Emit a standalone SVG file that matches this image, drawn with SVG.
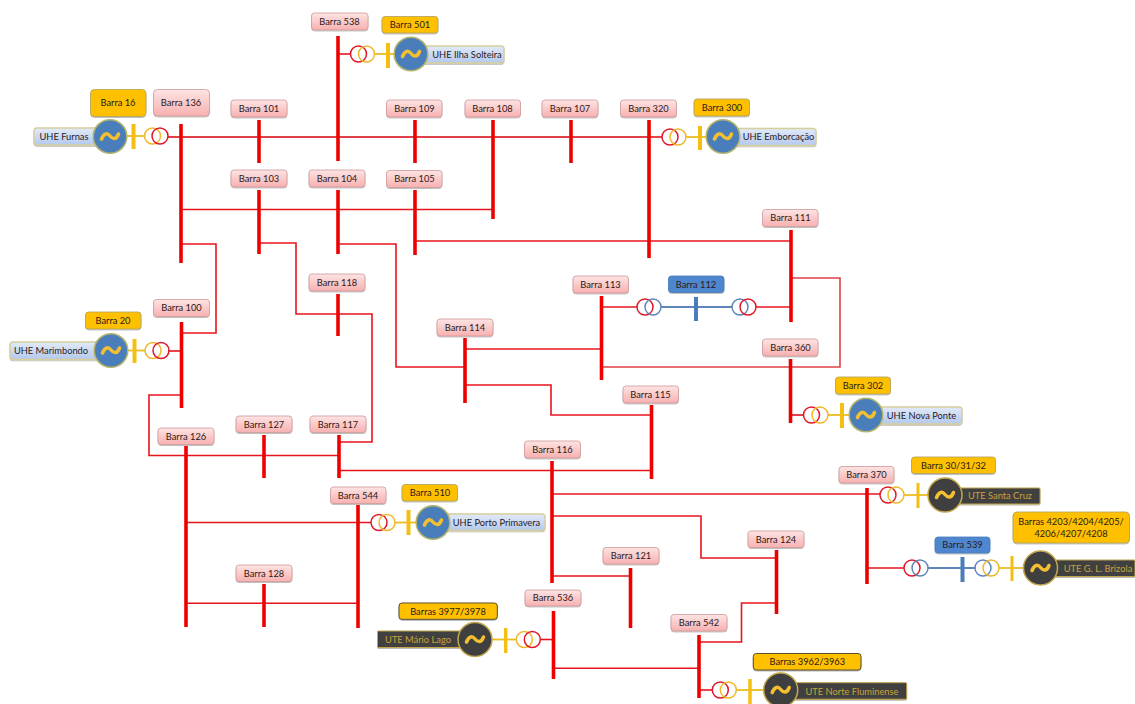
<svg xmlns="http://www.w3.org/2000/svg" width="1135" height="704" viewBox="0 0 1135 704">
<defs>
<linearGradient id="gP" x1="0" y1="0" x2="0" y2="1"><stop offset="0" stop-color="#fde4e4"/><stop offset="1" stop-color="#f8b0b0"/></linearGradient>
<linearGradient id="gU" x1="0" y1="0" x2="0" y2="1"><stop offset="0" stop-color="#e2eaf8"/><stop offset="1" stop-color="#b4c9ee"/></linearGradient>
<filter id="sh" x="-10%" y="-20%" width="120%" height="150%"><feDropShadow dx="0" dy="0.800" stdDeviation="0.500" flood-color="#000" flood-opacity="0.350"/></filter>
<path id="w" d="M-8.500 2.500C-6 -4 -2.500 -3.500 0 -0.500S6 4 8.500 -2.500"/>
</defs>
<style>
text{font-family:"Lato","Liberation Sans",sans-serif;font-size:9.300px;text-anchor:middle;fill:#2a1a1a}
.p{fill:url(#gP);stroke:#d09a9a;stroke-width:0.800;filter:url(#sh)}
.o{fill:#ffc000;stroke:#b0a260;stroke-width:0.800;filter:url(#sh)}
.k{fill:#ffc000;stroke:#5a5030;stroke-width:1;filter:url(#sh)}
.b{fill:#4f86d0;stroke:#4a7ebb;stroke-width:0.800;filter:url(#sh)}
.u{fill:url(#gU);stroke:#d6cf9c;stroke-width:1.300;filter:url(#sh)}
.d{fill:#3f3f3f;stroke:#c2a64c;stroke-width:1;filter:url(#sh)}
.dt{fill:#c9a23c}
.bus{stroke:#ee0000;stroke-width:3.600;fill:none}
.ln{stroke:#e8141c;stroke-width:1.600;fill:none}
.main{stroke:#e0404a;stroke-width:2;fill:none}
.ylw{stroke:#ecbc20;stroke-width:1.800;fill:none}
.blu{stroke:#5f86bb;stroke-width:1.800;fill:none}
.ybar{stroke:#f5bf12;stroke-width:4;fill:none}
.bbar{stroke:#4a7ebb;stroke-width:4;fill:none}
.tr{stroke:#e0182a;stroke-width:1.500;fill:none}
.ty{stroke:#efb82a;stroke-width:1.500;fill:none}
.tb{stroke:#5f86bb;stroke-width:1.500;fill:none}
.gb{fill:#4a7ebb;stroke:#b4b46c;stroke-width:1.500}
.gd{fill:#3f3f3f;stroke:#c2a64c;stroke-width:1.500}
.wv{fill:none;stroke:#f5c030;stroke-width:3.500;stroke-linecap:round}
</style>
<g id="connectors">
<path class="main" d="M168 137H649"/>
<path class="ln" d="M181 209.500H493"/>
<path class="ln" d="M181 244H216V333H181"/>
<path class="ln" d="M259 243H296V314H372V442H339"/>
<path class="ln" d="M338 244H396V367H465"/>
<path class="ln" d="M415 241H791"/>
<path class="main" style="stroke-width:1.600" d="M791 278H840V367H601"/>
<path class="ln" d="M465 349H601"/>
<path class="ln" d="M465 385H551V415H651"/>
<path class="ln" d="M181 395H149V455.500H339"/>
<path class="ln" d="M339 470.500H651"/>
<path class="ln" d="M552 494H880"/>
<path class="ln" d="M552 516H701V558H776"/>
<path class="ln" d="M186 522.500H371"/>
<path class="ln" d="M186 603.300H358"/>
<path class="ln" d="M552 576H630"/>
<path class="ln" d="M553 668.300H698"/>
<path class="ln" d="M699 642H741.500V603H776"/>
<path class="ln" d="M601 307H637"/>
<path class="blu" d="M661 307H732"/>
<path class="ln" d="M756 307H791"/>
<path class="ln" d="M338 54H350"/>
<path class="ln" d="M649 137H662"/>
<path class="main" d="M790 415H804"/>
<path class="ln" d="M867 568H904"/>
<path class="blu" d="M928 568H975"/>
<path class="ln" d="M540 639.500H553"/>
<path class="ln" d="M699 690H712"/>
<path class="ln" d="M168 351H181"/>
<path class="ylw" d="M127 136H145"/>
<path class="ylw" d="M374 54H394"/>
<path class="ylw" d="M686 137H706"/>
<path class="ylw" d="M128 350.500H145"/>
<path class="ylw" d="M828 415H849"/>
<path class="ylw" d="M395 522.500H416"/>
<path class="ylw" d="M904 495H928"/>
<path class="ylw" d="M999 568H1023"/>
<path class="ylw" d="M492 639.500H516"/>
<path class="ylw" d="M736 690H764"/>
</g>
<g id="barra-538"><rect class="p" x="311.500" y="13" width="56.500" height="17" rx="3"/><text x="339.500" y="24.800">Barra 538</text><path class="bus" d="M338 36V161"/></g>
<g id="barra-136"><rect class="p" x="153.500" y="89.500" width="56" height="26.500" rx="4"/><text x="181" y="106">Barra 136</text><path class="bus" d="M181 124V263"/></g>
<g id="barra-101"><rect class="p" x="231" y="100" width="56" height="17" rx="3"/><text x="259" y="111.800">Barra 101</text><path class="bus" d="M259 120V163"/></g>
<g id="barra-109"><rect class="p" x="386.500" y="100" width="55.500" height="17" rx="3"/><text x="414.500" y="111.800">Barra 109</text><path class="bus" d="M415 120V163"/></g>
<g id="barra-108"><rect class="p" x="465" y="100" width="55.500" height="17" rx="3"/><text x="492.500" y="111.800">Barra 108</text><path class="bus" d="M493 120V219"/></g>
<g id="barra-107"><rect class="p" x="542" y="100" width="56" height="17" rx="3"/><text x="570" y="111.800">Barra 107</text><path class="bus" d="M571 120V163"/></g>
<g id="barra-320"><rect class="p" x="620.500" y="100" width="56" height="17" rx="3"/><text x="648.500" y="111.800">Barra 320</text><path class="bus" d="M649 120V258"/></g>
<g id="barra-103"><rect class="p" x="231" y="170" width="56" height="17" rx="3"/><text x="259" y="181.800">Barra 103</text><path class="bus" d="M259 190V254"/></g>
<g id="barra-104"><rect class="p" x="309" y="170" width="56" height="17" rx="3"/><text x="337" y="181.800">Barra 104</text><path class="bus" d="M338 190V254"/></g>
<g id="barra-105"><rect class="p" x="386.500" y="170.500" width="55.500" height="17" rx="3"/><text x="414.500" y="182.300">Barra 105</text><path class="bus" d="M415 190V255"/></g>
<g id="barra-111"><rect class="p" x="762.500" y="209.500" width="55.500" height="17" rx="3"/><text x="790.500" y="221.300">Barra 111</text><path class="bus" d="M791 230V322"/></g>
<g id="barra-118"><rect class="p" x="309" y="274" width="56" height="17" rx="3"/><text x="337" y="285.800">Barra 118</text><path class="bus" d="M338 294V336"/></g>
<g id="barra-113"><rect class="p" x="573" y="276" width="55.500" height="17" rx="3"/><text x="600.500" y="287.800">Barra 113</text><path class="bus" d="M601.500 296V380"/></g>
<g id="barra-112"><rect class="b" x="668.500" y="276" width="55.500" height="16.500" rx="3"/><text x="696" y="287.800">Barra 112</text><path class="bbar" d="M696 297V321"/><circle class="tr" cx="645" cy="307" r="8"/><circle class="tb" cx="653" cy="307" r="8"/><circle class="tb" cx="740" cy="307" r="8"/><circle class="tr" cx="748" cy="307" r="8"/></g>
<g id="barra-114"><rect class="p" x="437" y="319" width="56" height="17" rx="3"/><text x="465" y="330.800">Barra 114</text><path class="bus" d="M465 338V403"/></g>
<g id="barra-100"><rect class="p" x="153.500" y="299.500" width="56" height="17" rx="3"/><text x="181.500" y="311.300">Barra 100</text><path class="bus" d="M181.500 322V408"/></g>
<g id="barra-360"><rect class="p" x="762.500" y="339" width="55.500" height="17" rx="3"/><text x="790.500" y="350.800">Barra 360</text><path class="bus" d="M790.500 359V423"/></g>
<g id="barra-115"><rect class="p" x="623" y="386" width="55.500" height="17" rx="3"/><text x="650.500" y="397.800">Barra 115</text><path class="bus" d="M651.500 405V479"/></g>
<g id="barra-127"><rect class="p" x="236" y="416" width="56" height="16.500" rx="3"/><text x="264" y="427.500">Barra 127</text><path class="bus" d="M264 435V478"/></g>
<g id="barra-117"><rect class="p" x="310" y="416" width="56" height="16.500" rx="3"/><text x="338" y="427.500">Barra 117</text><path class="bus" d="M339 435V478"/></g>
<g id="barra-126"><rect class="p" x="158" y="428" width="56" height="16.500" rx="3"/><text x="186" y="439.500">Barra 126</text><path class="bus" d="M186 446V627"/></g>
<g id="barra-116"><rect class="p" x="524.500" y="441" width="56" height="17" rx="3"/><text x="552.500" y="452.800">Barra 116</text><path class="bus" d="M552 461V583"/></g>
<g id="barra-370"><rect class="p" x="839" y="466.500" width="55" height="16.500" rx="3"/><text x="866.500" y="478">Barra 370</text><path class="bus" d="M867 488V584"/></g>
<g id="barra-544"><rect class="p" x="330.500" y="487" width="55.500" height="16.500" rx="3"/><text x="358" y="498.500">Barra 544</text><path class="bus" d="M358 505V628"/></g>
<g id="barra-539"><rect class="b" x="935" y="537" width="55" height="16" rx="3"/><text x="962.500" y="548.300">Barra 539</text><path class="bbar" d="M962.500 557V582"/></g>
<g id="barra-124"><rect class="p" x="748" y="531" width="56" height="16.500" rx="3"/><text x="776" y="542.500">Barra 124</text><path class="bus" d="M776.500 550V614"/></g>
<g id="barra-128"><rect class="p" x="236" y="565" width="56" height="16.500" rx="3"/><text x="264" y="576.500">Barra 128</text><path class="bus" d="M264 584V627"/></g>
<g id="barra-121"><rect class="p" x="603" y="547.500" width="56" height="16.500" rx="3"/><text x="631" y="559">Barra 121</text><path class="bus" d="M630.500 568V628"/></g>
<g id="barra-536"><rect class="p" x="525" y="590" width="56" height="16" rx="3"/><text x="553" y="601.300">Barra 536</text><path class="bus" d="M553.500 611V679"/></g>
<g id="barra-542"><rect class="p" x="671" y="614.500" width="56" height="16.500" rx="3"/><text x="699" y="626">Barra 542</text><path class="bus" d="M699 635V698"/></g>
<g id="uhe-furnas"><rect class="o" x="90.500" y="89.500" width="55.500" height="27" rx="4"/><text x="118" y="106">Barra 16</text><path class="ybar" d="M133.500 124V149"/><circle class="ty" cx="152.500" cy="136" r="8"/><circle class="tr" cx="160" cy="136" r="8"/><rect class="u" x="34" y="128" width="65" height="17" rx="3"/><text x="64" y="139.800">UHE Furnas</text><circle class="gb" cx="110" cy="136.500" r="16.800"/><use class="wv" href="#w" x="110" y="136.500"/></g>
<g id="uhe-ilha-solteira"><rect class="o" x="382" y="16.500" width="56" height="16.500" rx="3"/><text x="410" y="28.300">Barra 501</text><path class="ybar" d="M388 43V68"/><circle class="tr" cx="358.500" cy="54" r="8"/><circle class="ty" cx="366.500" cy="54" r="8"/><rect class="u" x="420" y="46" width="84" height="17" rx="3"/><text x="467" y="57.800">UHE Ilha Solteira</text><circle class="gb" cx="411" cy="54" r="16.800"/><use class="wv" href="#w" x="411" y="54"/></g>
<g id="uhe-emborcacao"><rect class="o" x="694" y="99" width="55.500" height="17" rx="3"/><text x="722" y="110.800">Barra 300</text><path class="ybar" d="M700 126V150"/><circle class="tr" cx="670" cy="137" r="8"/><circle class="ty" cx="678" cy="137" r="8"/><rect class="u" x="730" y="128.500" width="86" height="17" rx="3"/><text x="778.500" y="140.300">UHE Emborcação</text><circle class="gb" cx="723" cy="136.500" r="16.800"/><use class="wv" href="#w" x="723" y="136.500"/></g>
<g id="uhe-marimbondo"><rect class="o" x="85.500" y="312" width="55.500" height="17" rx="3"/><text x="113" y="323.800">Barra 20</text><path class="ybar" d="M134.500 339V363"/><circle class="ty" cx="153" cy="350.500" r="8"/><circle class="tr" cx="161" cy="350.500" r="8"/><rect class="u" x="10" y="342" width="90" height="17.500" rx="3"/><text x="51" y="354">UHE Marimbondo</text><circle class="gb" cx="111" cy="350.500" r="16.800"/><use class="wv" href="#w" x="111" y="350.500"/></g>
<g id="uhe-nova-ponte"><rect class="o" x="835.500" y="377" width="55" height="17" rx="3"/><text x="863" y="388.800">Barra 302</text><path class="ybar" d="M842 403V428"/><circle class="tr" cx="811.500" cy="415" r="8"/><circle class="ty" cx="820" cy="415" r="8"/><rect class="u" x="870" y="407" width="92" height="17" rx="3"/><text x="921.500" y="418.800">UHE Nova Ponte</text><circle class="gb" cx="866" cy="415" r="16.800"/><use class="wv" href="#w" x="866" y="415"/></g>
<g id="uhe-porto-primavera"><rect class="o" x="402" y="484.500" width="55.500" height="16.500" rx="3"/><text x="430" y="496">Barra 510</text><path class="ybar" d="M408.500 510V535"/><circle class="tr" cx="379" cy="522.500" r="8"/><circle class="ty" cx="387" cy="522.500" r="8"/><rect class="u" x="440" y="514" width="105" height="16.500" rx="3"/><text x="496.500" y="526">UHE Porto Primavera</text><circle class="gb" cx="433" cy="522.500" r="16.800"/><use class="wv" href="#w" x="433" y="522.500"/></g>
<g id="ute-santa-cruz"><rect class="o" x="911.500" y="457" width="84" height="16.500" rx="3"/><text x="953.500" y="468.800">Barra 30/31/32</text><path class="ybar" style="stroke-width:3" d="M918 483V508"/><circle class="tr" cx="888" cy="495" r="8"/><circle class="ty" cx="896" cy="495" r="8"/><rect class="d" x="955" y="488" width="85" height="16" rx="1"/><text class="dt" x="1000" y="499.300">UTE Santa Cruz</text><circle class="gd" cx="945" cy="495" r="17"/><use class="wv" href="#w" x="945" y="495"/></g>
<g id="ute-brizola"><rect class="o" x="1013" y="512" width="116.500" height="31" rx="4"/><text x="1071" y="524.500">Barras 4203/4204/4205/</text><text x="1071" y="537">4206/4207/4208</text><path class="ybar" style="stroke-width:3" d="M1012 556V581"/><circle class="tr" cx="912" cy="568" r="8"/><circle class="tb" cx="920" cy="568" r="8"/><circle class="tb" cx="983" cy="568" r="8"/><circle class="ty" cx="991" cy="568" r="8"/><rect class="d" x="1050" y="560" width="85" height="16.500" rx="1"/><text class="dt" x="1098" y="571.800">UTE G. L. Brizola</text><circle class="gd" cx="1040.500" cy="568" r="17"/><use class="wv" href="#w" x="1040.500" y="568"/></g>
<g id="ute-mario-lago"><rect class="k" x="399" y="603" width="98.300" height="16.300" rx="3"/><text x="448" y="614.800">Barras 3977/3978</text><path class="ybar" style="stroke-width:3.500" d="M505.700 628V653"/><circle class="ty" cx="524.300" cy="639.500" r="8"/><circle class="tr" cx="532.300" cy="639.500" r="8"/><rect class="d" x="377.500" y="631" width="85" height="16.500" rx="1"/><text class="dt" x="418" y="642.800">UTE Mário Lago</text><circle class="gd" cx="475" cy="639.500" r="17"/><use class="wv" href="#w" x="475" y="639.500"/></g>
<g id="ute-norte-fluminense"><rect class="k" x="753.300" y="653.500" width="107.700" height="16.500" rx="3"/><text x="807.300" y="665.300">Barras 3962/3963</text><path class="ybar" style="stroke-width:3.500" d="M750 679V704"/><circle class="tr" cx="720.300" cy="690" r="8"/><circle class="ty" cx="728.300" cy="690" r="8"/><rect class="d" x="775" y="682.700" width="131.700" height="16.500" rx="1"/><text class="dt" x="852" y="694.500">UTE Norte Fluminense</text><circle class="gd" cx="780.700" cy="690" r="17"/><use class="wv" href="#w" x="780.700" y="690"/></g>
</svg>
